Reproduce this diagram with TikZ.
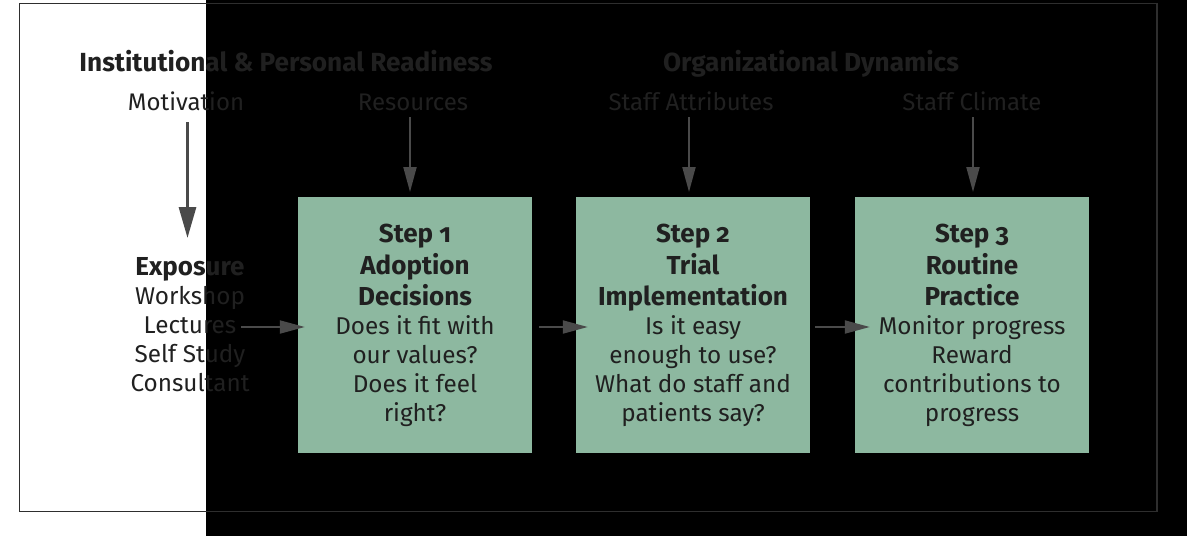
\documentclass[tikz,border=0pt]{standalone}
\usepackage{fontspec}
\setmainfont{Fira Sans}[Numbers=OldStyle]
\usetikzlibrary{arrows.meta}
\definecolor{txt}{HTML}{202020}
\definecolor{arr}{HTML}{4A4A4A}
\definecolor{boxfill}{HTML}{8DB8A0}
\definecolor{frame}{HTML}{2E2E2E}
\newcommand{\bl}[1]{{\fontsize{26}{29}\selectfont\bfseries #1}}
\tikzset{
  heading/.style={font=\fontsize{26.2}{30}\selectfont\bfseries, text=txt, anchor=base, inner sep=0pt},
  label/.style={font=\fontsize{24}{28}\selectfont, text=txt, anchor=base, inner sep=0pt},
  stepbox/.style={fill=boxfill, draw=none, minimum width=234pt, minimum height=256pt, inner sep=0pt},
  steptext/.style={font=\fontsize{24.3}{29}\selectfont, text=txt, align=center, inner sep=0pt},
  thinarrow/.style={draw=arr, line width=2pt, -{Triangle[length=25pt,width=13pt]}},
  bigarrow/.style={draw=arr, line width=3pt, -{Triangle[length=31pt,width=17pt]}},
}
\begin{document}
\begin{tikzpicture}[x=1pt,y=-1pt]
\useasboundingbox (0,0) rectangle (1187,536);
\fill[white] (0,0) rectangle (205.5,536);
\fill[black] (205.5,0) rectangle (1187,536);
\draw[frame, line width=1.5pt] (19.5,3.5) rectangle (1157,511.5);

\node[heading] (h1) at (286,71) {Institutional \& Personal Readiness};
\node[heading] (h2) at (811,71) {Organizational Dynamics};

\node[label] (mot) at (186,110) {Motivation};
\node[label] (res) at (413,110) {Resources};
\node[label] (sa) at (691,110) {Staff Attributes};
\node[label] (sc) at (972,110) {Staff Climate};

\node[stepbox] (s1) at (415,325) {};
\node[stepbox] (s2) at (693,325) {};
\node[stepbox] (s3) at (972,325) {};

\node[steptext] (t1) at (415,325) {\bl{Step 1}\\[3pt]\bl{Adoption}\\[2pt]\bl{Decisions}\\Does it fit with\\our values?\\Does it feel\\right?};
\node[steptext] (t2) at (693,325) {\bl{Step 2}\\[3pt]\bl{Trial}\\[2pt]\bl{Implementation}\\Is it easy\\enough to use?\\What do staff and\\patients say?};
\node[steptext] (t3) at (972,325) {\bl{Step 3}\\[3pt]\bl{Routine}\\[2pt]\bl{Practice}\\Monitor progress\\Reward\\contributions to\\progress};

\node[steptext] (expo) at (190,325) {\bl{Exposure}\\Workshop\\Lectures\\Self Study\\Consultant};

\coordinate (lect) at (241,327);
\coordinate (motb) at (187.5,238);

\draw[bigarrow] (187.5,122) -- (motb);
\draw[thinarrow] (410,117) -- (410,192);
\draw[thinarrow] (689,117) -- (689,192);
\draw[thinarrow] (973,117) -- (973,192);

\draw[thinarrow, shorten >=-7pt] (lect) -- (s1.west |- lect);
\draw[thinarrow, shorten <=7pt, shorten >=-12pt] (s1.east |- lect) -- (s2.west |- lect);
\draw[thinarrow, shorten <=5pt, shorten >=-15pt] (s2.east |- lect) -- (s3.west |- lect);
\end{tikzpicture}
\end{document}
